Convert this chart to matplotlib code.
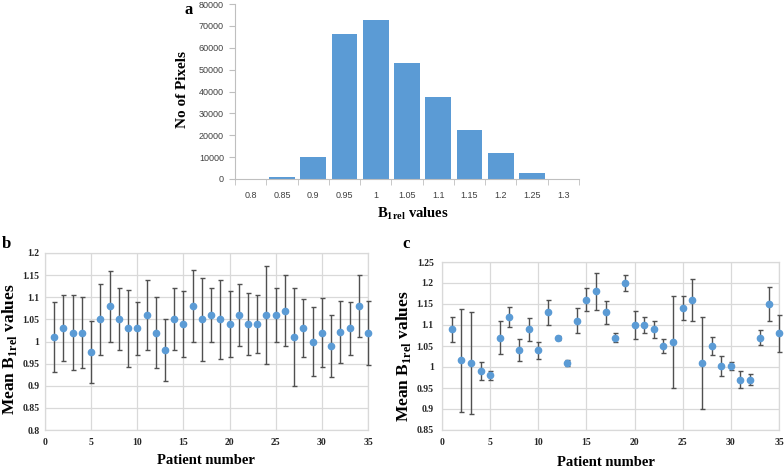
import numpy as np
import matplotlib
matplotlib.use("Agg")
import matplotlib.pyplot as plt
from matplotlib.ticker import MultipleLocator, FixedLocator

plt.rcParams["mathtext.fontset"] = "custom"
plt.rcParams["mathtext.rm"] = "Liberation Serif"
plt.rcParams["mathtext.bf"] = "Liberation Serif:bold"

# ---- data ----------------------------------------------------------
pixel_bins = ["0.8", "0.85", "0.9", "0.95", "1", "1.05", "1.1", "1.15", "1.2", "1.25", "1.3"]
pixel_counts = [0, 800, 9900, 66300, 72500, 52900, 37700, 22500, 12100, 2900, 0]

patients = list(range(1, 36))

b_mean = [1.01, 1.03, 1.02, 1.02, 0.977, 1.05, 1.08, 1.05, 1.03, 1.03,
          1.06, 1.02, 0.98, 1.05, 1.04, 1.08, 1.05, 1.06, 1.05, 1.04,
          1.06, 1.04, 1.04, 1.06, 1.06, 1.07, 1.01, 1.03, 1.0, 1.02,
          0.99, 1.022, 1.03, 1.08, 1.02]
b_err = [0.08, 0.075, 0.085, 0.08, 0.07, 0.08, 0.08, 0.07, 0.087, 0.06,
         0.08, 0.08, 0.07, 0.07, 0.074, 0.082, 0.093, 0.06, 0.09, 0.075,
         0.07, 0.07, 0.065, 0.11, 0.06, 0.08, 0.11, 0.065, 0.078, 0.078,
         0.07, 0.07, 0.06, 0.07, 0.072]

c_mean = [1.09, 1.016, 1.01, 0.99, 0.98, 1.07, 1.12, 1.04, 1.09, 1.04,
          1.13, 1.07, 1.01, 1.11, 1.16, 1.18, 1.13, 1.07, 1.2, 1.1,
          1.1, 1.09, 1.05, 1.06, 1.14, 1.16, 1.01, 1.05, 1.003, 1.003,
          0.97, 0.97, 1.07, 1.15, 1.08]
c_err = [0.03, 0.122, 0.121, 0.021, 0.01, 0.04, 0.024, 0.026, 0.027, 0.02,
         0.03, 0.005, 0.007, 0.03, 0.027, 0.045, 0.027, 0.01, 0.02, 0.033,
         0.018, 0.02, 0.016, 0.11, 0.029, 0.05, 0.11, 0.022, 0.024, 0.01,
         0.02, 0.014, 0.017, 0.04, 0.044]

BLUE = "#5B9BD5"
GRID = "#D9D9D9"
SERIF = "Liberation Serif"
W, H = 784, 467

fig = plt.figure(figsize=(W / 100, H / 100), dpi=100)


def px_axes(left, top, right, bottom):
    return fig.add_axes([left / W, 1 - bottom / H, (right - left) / W, (bottom - top) / H])


def px_text(x, y, s, **kw):
    fig.text(x / W, 1 - y / H, s, ha="center", va="center", family=SERIF,
             fontweight="bold", **kw)


# ---- a: histogram ---------------------------------------------------
ax = px_axes(235, 4, 579, 179)
x = np.arange(len(pixel_bins))
ax.bar(x, pixel_counts, width=0.82, color=BLUE, zorder=2)
ax.set_xlim(-0.5, len(pixel_bins) - 0.5)
ax.set_ylim(0, 80000)
ax.yaxis.set_major_locator(MultipleLocator(10000))
ax.set_xticks(x)
ax.set_xticklabels(pixel_bins)
ax.xaxis.set_minor_locator(FixedLocator(np.arange(-0.5, len(pixel_bins), 1.0)))
ax.tick_params(axis="x", which="major", length=0, pad=9)
ax.tick_params(axis="x", which="minor", length=4, color="#BFBFBF")
ax.tick_params(axis="y", length=4, color="#BFBFBF", pad=4)
for lab in ax.get_xticklabels() + ax.get_yticklabels():
    lab.set_family("Liberation Sans")
    lab.set_fontsize(6.5)
    lab.set_color("#404040")
for side in ("top", "right"):
    ax.spines[side].set_visible(False)
for side in ("left", "bottom"):
    ax.spines[side].set_color("#BFBFBF")
    ax.spines[side].set_linewidth(0.8)

px_text(183, 89, "No of Pixels", rotation=90, fontsize=11)
px_text(413, 214, r"B$_{\mathbf{1rel}}$ values", fontsize=10.5)
px_text(189, 10, "a", fontsize=12)


# ---- b and c: mean B1rel per patient ------------------------------
def patient_panel(box, means, errs, ylo, yhi, ypad):
    ax = px_axes(*box)
    ax.errorbar(patients, means, yerr=errs, fmt="o", ms=4.5, color=BLUE,
                ecolor="#505050", elinewidth=1.0, capsize=1.8, capthick=1.0,
                zorder=3, clip_on=False)
    ax.set_xlim(0, 35)
    ax.set_ylim(ylo, yhi)
    ax.xaxis.set_major_locator(MultipleLocator(5))
    ax.yaxis.set_major_locator(MultipleLocator(0.05))
    ax.yaxis.set_major_formatter(lambda v, p: f"{v:.2f}".rstrip("0").rstrip("."))
    ax.grid(True, color=GRID, lw=0.9, zorder=0)
    ax.set_axisbelow(True)
    for s in ax.spines.values():
        s.set_color(GRID)
        s.set_linewidth(0.9)
    ax.tick_params(axis="both", length=0)
    ax.tick_params(axis="x", pad=6)
    ax.tick_params(axis="y", pad=ypad)
    for lab in ax.get_xticklabels() + ax.get_yticklabels():
        lab.set_family(SERIF)
        lab.set_fontweight("bold")
        lab.set_fontsize(7)
        lab.set_color("#262626")
    return ax


patient_panel((45, 253, 368, 430), b_mean, b_err, 0.8, 1.2, 4)
px_text(10, 349, r"Mean B$_{\mathbf{1rel}}$ values", rotation=90, fontsize=12.5)
px_text(206, 461, "Patient number", fontsize=10.5)
px_text(6, 244, "b", fontsize=12)

patient_panel((442, 262, 779, 430), c_mean, c_err, 0.85, 1.25, 6)
px_text(404, 356, r"Mean B$_{\mathbf{1rel}}$ values", rotation=90, fontsize=12.5)
px_text(606, 462, "Patient number", fontsize=10.5)
px_text(406, 244, "c", fontsize=12)

fig.savefig("out.png", dpi=100)
